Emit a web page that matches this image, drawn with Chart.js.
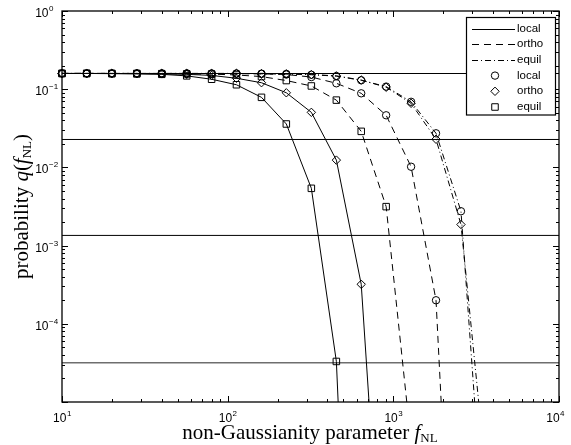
<!DOCTYPE html>
<html>
<head>
<meta charset="utf-8">
<script src="https://cdn.jsdelivr.net/npm/chart.js@4.4.0/dist/chart.umd.min.js"></script>
<style>
  html, body { margin: 0; padding: 0; background: #fff; }
  #wrap { width: 571px; height: 445px; position: relative; }
</style>
</head>
<body>
<div id="wrap"><canvas id="chart"></canvas></div>
<script>
// f_NL grid (same for every curve)
const fNL = [10, 14.1, 20, 28.3, 40, 56.6, 80, 113, 160, 226, 320, 453, 640, 905, 1280, 1810, 2560, 3620];

// curves named lineType + markerType
const localEquil = [0.159, 0.159, 0.158, 0.157, 0.155, 0.148, 0.134, 0.114, 0.0787, 0.0359, 0.0054, 3.3e-5, 2e-12];
const localOrtho = [0.159, 0.159, 0.159, 0.158, 0.157, 0.155, 0.150, 0.138, 0.121, 0.090, 0.0506, 0.0124, 3.2e-4, 5e-9];
const orthoEquil = [0.159, 0.159, 0.159, 0.159, 0.158, 0.157, 0.156, 0.152, 0.145, 0.129, 0.110, 0.0725, 0.0289, 0.00315, 3e-6];
const orthoLocal = [0.159, 0.159, 0.159, 0.159, 0.159, 0.159, 0.158, 0.158, 0.157, 0.154, 0.143, 0.119, 0.0886, 0.0464, 0.0102, 2.0e-4, 1e-10];
const equilLocal = [0.159, 0.159, 0.159, 0.159, 0.159, 0.159, 0.159, 0.159, 0.158, 0.157, 0.153, 0.147, 0.130, 0.108, 0.069, 0.0273, 0.00275, 1e-7];
const equilOrtho = [0.159, 0.159, 0.159, 0.159, 0.159, 0.159, 0.159, 0.159, 0.158, 0.157, 0.154, 0.148, 0.131, 0.106, 0.066, 0.0229, 0.00186, 1.2e-6];

// 1..4 sigma tail probabilities
const sigmaLevels = [0.1587, 0.02275, 0.00135, 3.17e-5];

const xTickExp = [1, 2, 3, 4];
const yTickExp = [0, -1, -2, -3, -4];
const legendLineLabels = ['local', 'ortho', 'equil'];
const legendMarkLabels = ['local', 'ortho', 'equil'];

const DASH = { local: [], ortho: [7, 5], equil: [6, 3, 1, 3] };
const MARK = { local: 'circle', ortho: 'rectRot', equil: 'rect' };
const RADIUS = { circle: 3.7, rectRot: 4.2, rect: 4.6 };

const curves = [
    { data: localEquil, line: 'local', mark: 'equil' },
    { data: localOrtho, line: 'local', mark: 'ortho' },
    { data: orthoEquil, line: 'ortho', mark: 'equil' },
    { data: orthoLocal, line: 'ortho', mark: 'local' },
    { data: equilLocal, line: 'equil', mark: 'local' },
    { data: equilOrtho, line: 'equil', mark: 'ortho' },
];

const datasets = [];
curves.forEach(c => {
    const style = MARK[c.mark];
    datasets.push({
        data: c.data.map((v, i) => ({ x: fNL[i], y: v })),
        borderColor: '#000',
        borderWidth: 1,
        borderDash: DASH[c.line],
        pointStyle: style,
        pointRadius: RADIUS[style],
        pointBorderColor: '#000',
        pointBorderWidth: 1,
        pointBackgroundColor: 'rgba(0,0,0,0)',
        tension: 0,
        clip: { left: 8, top: 0, right: 0, bottom: 0 },
    });
});
sigmaLevels.forEach((v, i) => {
    datasets.push({
        data: [{ x: 10, y: v }, { x: 10000, y: v }],
        borderColor: i === 3 ? '#6e6e6e' : '#000',
        borderWidth: i === 3 ? 1.6 : 1,
        pointRadius: 0,
    });
});

const TICK_FONT = '12px "Liberation Sans", Arial, sans-serif';
const EXP_FONT = '8px "Liberation Sans", Arial, sans-serif';
const LEGEND_FONT = '11.5px "Liberation Sans", Arial, sans-serif';
const SERIF = '"Liberation Serif", "Times New Roman", serif';

const drawRuns = (ctx, runs, cx, baseY) => {
    let total = 0;
    runs.forEach(r => { ctx.font = r.font; r.w = ctx.measureText(r.text).width; total += r.w; });
    let x = cx - total / 2;
    ctx.textBaseline = 'alphabetic';
    ctx.textAlign = 'left';
    runs.forEach(r => { ctx.font = r.font; ctx.fillText(r.text, x, baseY + (r.dy || 0)); x += r.w; });
};

const axisFrame = {
    id: 'axisFrame',
    afterDraw(chart) {
        const { ctx, chartArea: a, scales: { x, y } } = chart;
        ctx.save();
        ctx.strokeStyle = '#000';
        ctx.fillStyle = '#000';
        ctx.lineWidth = 1;
        ctx.setLineDash([]);

        // inward ticks on all four sides
        ctx.beginPath();
        for (let e = 1; e <= 4; e++) {
            for (let m = 1; m <= 9; m++) {
                const v = m * Math.pow(10, e);
                if (v > 1e4) break;
                const px = Math.round(x.getPixelForValue(v)) + 0.5;
                const len = m === 1 ? 6 : 3;
                ctx.moveTo(px, a.bottom); ctx.lineTo(px, a.bottom - len);
                ctx.moveTo(px, a.top); ctx.lineTo(px, a.top + len);
            }
        }
        for (let e = -5; e <= 0; e++) {
            for (let m = 1; m <= 9; m++) {
                const v = m * Math.pow(10, e);
                if (v > 1) break;
                const py = Math.round(y.getPixelForValue(v)) + 0.5;
                const len = m === 1 ? 6 : 3;
                ctx.moveTo(a.left, py); ctx.lineTo(a.left + len, py);
                ctx.moveTo(a.right, py); ctx.lineTo(a.right - len, py);
            }
        }
        ctx.stroke();

        // box
        ctx.lineWidth = 1.3;
        ctx.strokeRect(a.left, a.top, a.right - a.left, a.bottom - a.top);

        // x tick labels 10^n
        xTickExp.forEach(e => {
            const px = x.getPixelForValue(Math.pow(10, e));
            ctx.font = TICK_FONT;
            const wb = ctx.measureText('10').width;
            ctx.font = EXP_FONT;
            const we = ctx.measureText(String(e)).width;
            let left = px - (wb + we) / 2;
            if (left + wb + we > 564) left = 564 - wb - we;
            ctx.textAlign = 'left';
            ctx.textBaseline = 'alphabetic';
            ctx.font = TICK_FONT;
            ctx.fillText('10', left, a.bottom + 20);
            ctx.font = EXP_FONT;
            ctx.fillText(String(e), left + wb + 0.5, a.bottom + 14);
        });

        // y tick labels 10^n
        yTickExp.forEach(e => {
            const py = y.getPixelForValue(Math.pow(10, e));
            ctx.textBaseline = 'alphabetic';
            ctx.textAlign = 'right';
            ctx.font = TICK_FONT;
            ctx.fillText('10', 48.5, py + 6);
            ctx.textAlign = 'left';
            ctx.font = EXP_FONT;
            ctx.fillText(e === 0 ? '0' : '\u2212' + Math.abs(e), 49, py);
        });

        // axis titles
        drawRuns(ctx, [
            { text: 'non-Gaussianity parameter ', font: '21px ' + SERIF },
            { text: 'f', font: 'italic 21px ' + SERIF },
            { text: 'NL', font: '13px ' + SERIF, dy: 3 },
        ], 310, 439);

        ctx.save();
        ctx.translate(28, (a.top + a.bottom) / 2);
        ctx.rotate(-Math.PI / 2);
        drawRuns(ctx, [
            { text: 'probability ', font: '21px ' + SERIF },
            { text: 'q', font: 'italic 21px ' + SERIF },
            { text: '(', font: '21px ' + SERIF },
            { text: 'f', font: 'italic 21px ' + SERIF },
            { text: 'NL', font: '13px ' + SERIF, dy: 3 },
            { text: ')', font: '21px ' + SERIF },
        ], 0, 0);
        ctx.restore();

        // legend
        const lx = 466.5, ly = 17.5, lw = 89, lh = 97.5;
        ctx.fillStyle = '#fff';
        ctx.fillRect(lx, ly, lw, lh);
        ctx.lineWidth = 1.2;
        ctx.strokeStyle = '#000';
        ctx.strokeRect(lx, ly, lw, lh);
        ctx.fillStyle = '#000';
        ctx.font = LEGEND_FONT;
        ctx.textBaseline = 'middle';
        ctx.textAlign = 'left';
        const rowY = i => 28.5 + i * 15.7;
        legendLineLabels.forEach((t, i) => {
            ctx.lineWidth = 1;
            ctx.setLineDash(DASH[t]);
            ctx.beginPath();
            ctx.moveTo(472, Math.round(rowY(i)) + 0.5);
            ctx.lineTo(515, Math.round(rowY(i)) + 0.5);
            ctx.stroke();
            ctx.setLineDash([]);
            ctx.fillText(t, 517, rowY(i));
        });
        legendMarkLabels.forEach((t, i) => {
            const yy = rowY(i + 3);
            const style = MARK[t];
            ctx.fillStyle = 'rgba(0,0,0,0)';
            ctx.lineWidth = 1;
            Chart.helpers.drawPoint(ctx, { pointStyle: style, radius: RADIUS[style], rotation: 0, borderWidth: 1 }, 495, yy);
            ctx.fillStyle = '#000';
            ctx.fillText(t, 517, yy);
        });
        ctx.restore();
    },
};

new Chart(document.getElementById('chart'), {
    type: 'line',
    data: { datasets: datasets },
    options: {
        responsive: true,
        maintainAspectRatio: false,
        animation: false,
        events: [],
        layout: { padding: { left: 0, top: 11, right: 12, bottom: 0 } },
        plugins: { legend: { display: false }, tooltip: { enabled: false } },
        scales: {
            x: {
                type: 'logarithmic',
                min: 10,
                max: 10000,
                grid: { display: false },
                border: { display: false },
                ticks: { display: false },
                afterFit: s => { s.height = 43; },
            },
            y: {
                type: 'logarithmic',
                min: 1e-5,
                max: 1,
                grid: { display: false },
                border: { display: false },
                ticks: { display: false },
                afterFit: s => { s.width = 62; },
            },
        },
    },
    plugins: [axisFrame],
});
</script>
</body>
</html>
